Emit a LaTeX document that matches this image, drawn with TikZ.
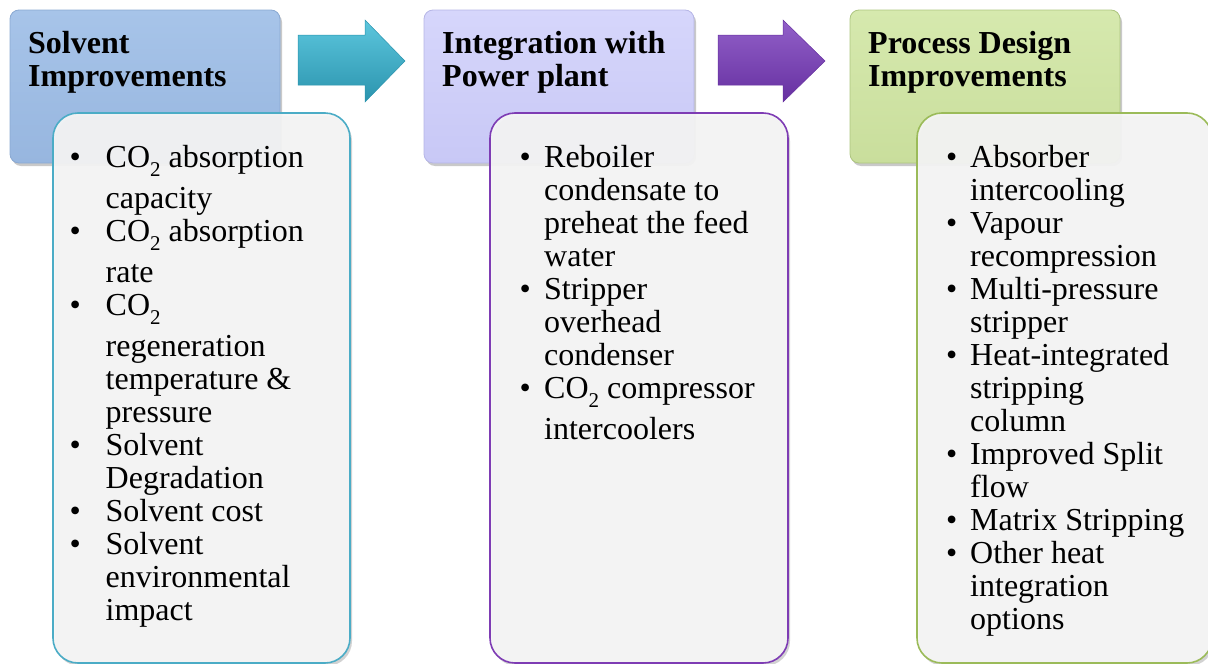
\documentclass[tikz,border=0pt]{standalone}
\usepackage{fontspec}
\setmainfont{Liberation Serif}
\usetikzlibrary{shadows}
\definecolor{hAtop}{HTML}{A7C4E9}
\definecolor{hAbot}{HTML}{97B6DF}
\definecolor{hAdraw}{HTML}{8AA9D2}
\definecolor{hBtop}{HTML}{D6D6FB}
\definecolor{hBbot}{HTML}{C8C8F6}
\definecolor{hBdraw}{HTML}{B6B6E6}
\definecolor{hCtop}{HTML}{D6E9AE}
\definecolor{hCbot}{HTML}{C9DE9C}
\definecolor{hCdraw}{HTML}{ADC580}
\definecolor{cA}{HTML}{4BACC6}
\definecolor{cB}{HTML}{7E3CB4}
\definecolor{cC}{HTML}{9BBB59}
\definecolor{panel}{HTML}{F5F5F5}
\definecolor{arAtop}{HTML}{5CC6DD}
\definecolor{arAmid}{HTML}{33B0CC}
\definecolor{arAbot}{HTML}{2B94AE}
\definecolor{arBtop}{HTML}{9260C9}
\definecolor{arBmid}{HTML}{7A3DB8}
\definecolor{arBbot}{HTML}{6630A0}
\newcommand\subtwo{\raisebox{-9pt}{\fontsize{21}{21}\selectfont 2}}
\newcommand\bulA{\makebox[36pt][l]{\textbullet}}
\newcommand\bulB{\makebox[24.5pt][l]{\textbullet}}
\newcommand\bulC{\makebox[24pt][l]{\textbullet}}
\begin{document}
\begin{tikzpicture}[x=1pt,y=-1pt,
  hdr/.style={rectangle, rounded corners=9pt, minimum width=270pt, minimum height=153pt,
    inner sep=0pt, line width=0.8pt,
    drop shadow={shadow xshift=2pt, shadow yshift=-3pt, opacity=0.3, fill=black!70}},
  pnl/.style={rectangle, rounded corners=25pt, fill=panel, fill opacity=0.94,
    inner sep=0pt, line width=1.6pt,
    drop shadow={shadow xshift=2pt, shadow yshift=-3pt, opacity=0.25, fill=black!70}},
  htxt/.style={anchor=base west, inner sep=0pt, font=\fontsize{32}{33}\selectfont\bfseries},
  btxt/.style={anchor=base west, inner sep=0pt, font=\fontsize{32}{33}\selectfont},
  blockarrow/.style={line width=0.5pt}
]
\clip (0,0) rectangle (1208,664);
\useasboundingbox (0,0) rectangle (1208,664);

% header boxes
\node[hdr, top color=hAtop, bottom color=hAbot, draw=hAdraw] (h1) at (145,86.5) {};
\node[hdr, top color=hBtop, bottom color=hBbot, draw=hBdraw] (h2) at (559,86.5) {};
\node[hdr, top color=hCtop, bottom color=hCbot, draw=hCdraw] (h3) at (985,86.5) {};

% block arrows
\path[blockarrow, top color=arAtop, middle color=arAmid, bottom color=arAbot, draw=arAbot]
  (298,35) -- (365,35) -- (365,20) -- (405,61) -- (365,102) -- (365,85) -- (298,85) -- cycle;
\path[blockarrow, top color=arBtop, middle color=arBmid, bottom color=arBbot, draw=arBbot]
  (718,35) -- (783,35) -- (783,20) -- (825,61) -- (783,102) -- (783,85) -- (718,85) -- cycle;

% header texts
\node[htxt] (ht1) at (28,53) {\begin{tabular}[t]{@{}l@{}}Solvent\\Improvements\end{tabular}};
\node[htxt] (ht2) at (442,53) {\begin{tabular}[t]{@{}l@{}}Integration with\\Power plant\end{tabular}};
\node[htxt] (ht3) at (868,53) {\begin{tabular}[t]{@{}l@{}}Process Design\\Improvements\end{tabular}};

% content panels
\node[pnl, draw=cA, minimum width=297pt, minimum height=550pt] (c1) at (201.5,388) {};
\node[pnl, draw=cB, minimum width=298pt, minimum height=550pt] (c2) at (639,388) {};
\node[pnl, draw=cC, minimum width=295pt, minimum height=550pt] (c3) at (1064.5,388) {};

% content texts
\node[btxt] (t1) at (69.5,167) {\begin{tabular}[t]{@{}l@{}l@{}}
\bulA & CO\subtwo\ absorption\\[8pt]
 & capacity\\
\bulA & CO\subtwo\ absorption\\[8pt]
 & rate\\
\bulA & CO\subtwo\\[8pt]
 & regeneration\\
 & temperature \&\\
 & pressure\\
\bulA & Solvent\\
 & Degradation\\
\bulA & Solvent cost\\
\bulA & Solvent\\
 & environmental\\
 & impact
\end{tabular}};

\node[btxt] (t2) at (519.5,167) {\begin{tabular}[t]{@{}l@{}l@{}}
\bulB & Reboiler\\
 & condensate to\\
 & preheat the feed\\
 & water\\
\bulB & Stripper\\
 & overhead\\
 & condenser\\
\bulB & CO\subtwo\ compressor\\[8pt]
 & intercoolers
\end{tabular}};

\node[btxt] (t3) at (946,167) {\begin{tabular}[t]{@{}l@{}l@{}}
\bulC & Absorber\\
 & intercooling\\
\bulC & Vapour\\
 & recompression\\
\bulC & Multi-pressure\\
 & stripper\\
\bulC & Heat-integrated\\
 & stripping\\
 & column\\
\bulC & Improved Split\\
 & flow\\
\bulC & Matrix Stripping\\
\bulC & Other heat\\
 & integration\\
 & options
\end{tabular}};
\end{tikzpicture}
\end{document}
